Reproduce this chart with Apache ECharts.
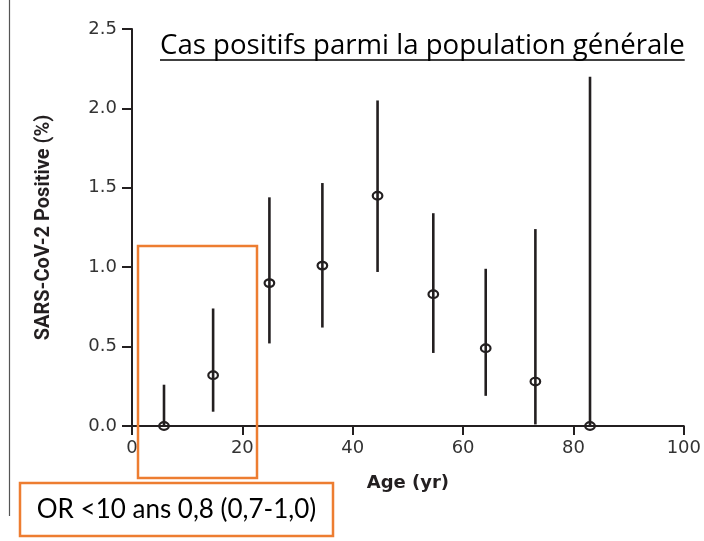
<!DOCTYPE html>
<html lang="fr">
<head>
    <meta charset="UTF-8">
    <title>Cas positifs</title>
    <script src="https://cdn.jsdelivr.net/npm/echarts/dist/echarts.min.js"></script>
    <style>
        body { margin: 0; background: #fff; }
        #main { width: 704px; height: 541px; }
    </style>
</head>
<body>
    <div id="main"></div>
    <script>
        // age (yr), % positive, 95% CI
        var ages = [5.8, 14.7, 24.9, 34.5, 44.5, 54.6, 64.1, 73.1, 83.0];
        var positive = [0, 0.32, 0.90, 1.01, 1.45, 0.83, 0.49, 0.28, 0];
        var lower = [0, 0.09, 0.52, 0.62, 0.97, 0.46, 0.19, 0.01, 0];
        var upper = [0.26, 0.74, 1.44, 1.53, 2.05, 1.34, 0.99, 1.24, 2.20];

        var titleText = 'Cas positifs parmi la population générale';
        var noteText = 'OR <10 ans 0,8 (0,7-1,0)';

        var ink = '#231f20';
        var orange = '#ED7D31';

        var data = ages.map(function (a, i) {
            return [a, positive[i], lower[i], upper[i]];
        });

        var titleFont = '27.6px "Open Sans"';
        var ctx = document.createElement('canvas').getContext('2d');
        ctx.font = titleFont;
        var titleW = ctx.measureText(titleText).width;

        var chart = echarts.init(document.getElementById('main'));
        var option = {
            backgroundColor: '#fff',
            animation: false,
            grid: { left: 132, right: 20, top: 29, bottom: 115 },
            xAxis: {
                type: 'value',
                min: 0, max: 100, interval: 20,
                name: 'Age (yr)',
                nameLocation: 'middle',
                nameGap: 48,
                nameTextStyle: { fontFamily: 'DejaVu Sans', fontWeight: 'bold', fontSize: 18, color: ink },
                axisLine: { lineStyle: { color: ink, width: 2 } },
                axisTick: { length: 9, lineStyle: { color: ink, width: 2 } },
                axisLabel: { margin: 13, fontFamily: 'DejaVu Sans', fontSize: 18, color: '#333' },
                splitLine: { show: false }
            },
            yAxis: {
                type: 'value',
                min: 0, max: 2.5, interval: 0.5,
                name: 'SARS-CoV-2 Positive (%)',
                nameLocation: 'middle',
                nameGap: 78,
                nameTextStyle: { fontFamily: 'Roboto', fontWeight: 'bold', fontSize: 20, color: ink },
                axisLine: { show: true, lineStyle: { color: ink, width: 2 } },
                axisTick: { show: true, length: 10, lineStyle: { color: ink, width: 2 } },
                axisLabel: {
                    margin: 15, fontFamily: 'DejaVu Sans', fontSize: 18, color: '#333',
                    formatter: function (v) { return v.toFixed(1); }
                },
                splitLine: { show: false }
            },
            graphic: [
                { type: 'line', shape: { x1: 9.5, y1: 0, x2: 9.5, y2: 516 }, style: { stroke: '#555', lineWidth: 1.2 } },
                { type: 'text', x: 160, y: 46.5, style: { text: titleText, font: titleFont, fill: '#000', verticalAlign: 'middle' } },
                { type: 'line', shape: { x1: 160, y1: 60, x2: 160 + titleW, y2: 60 }, style: { stroke: '#000', lineWidth: 1.6 } },
                { type: 'rect', shape: { x: 138, y: 246, width: 119, height: 232 }, style: { fill: 'none', stroke: orange, lineWidth: 2.5 }, z: 10 },
                { type: 'rect', shape: { x: 20, y: 483, width: 313, height: 53 }, style: { fill: '#fff', stroke: orange, lineWidth: 2.5 }, z: 10 },
                { type: 'text', x: 176.5, y: 510, z: 11, style: { text: noteText, font: '26px Lato', fill: '#000', align: 'center', verticalAlign: 'middle' } }
            ],
            series: [{
                type: 'custom',
                data: data,
                encode: { x: 0, y: [1, 2, 3] },
                renderItem: function (params, api) {
                    var c = api.coord([api.value(0), api.value(1)]);
                    var lo = api.coord([api.value(0), api.value(2)]);
                    var hi = api.coord([api.value(0), api.value(3)]);
                    return {
                        type: 'group',
                        children: [
                            { type: 'line', shape: { x1: lo[0], y1: lo[1], x2: hi[0], y2: hi[1] }, style: { stroke: ink, lineWidth: 2.6 } },
                            { type: 'ellipse', shape: { cx: c[0], cy: c[1], rx: 4.8, ry: 3.8 }, style: { fill: 'none', stroke: ink, lineWidth: 2.2 } }
                        ]
                    };
                }
            }]
        };
        chart.setOption(option);
    </script>
</body>
</html>
